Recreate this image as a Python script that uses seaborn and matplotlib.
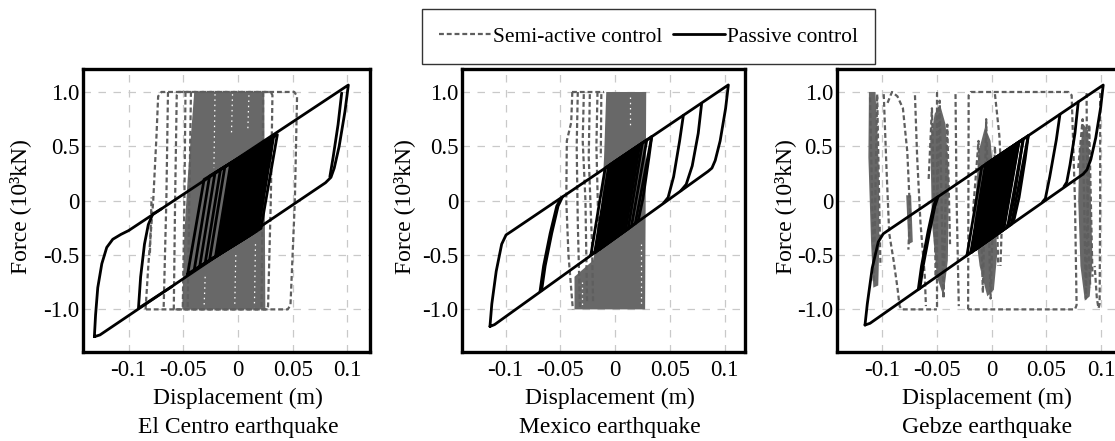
import matplotlib
matplotlib.use("Agg")
import matplotlib.pyplot as plt
from matplotlib.lines import Line2D
import pandas as pd
import seaborn as sns

# ------------------------------------------------------------------ text
x_ticks = [-0.1, -0.05, 0.0, 0.05, 0.1]
x_tick_labels = ["-0.1", "-0.05", "0", "0.05", "0.1"]
y_ticks = [-1.0, -0.5, 0.0, 0.5, 1.0]
y_tick_labels = ["-1.0", "-0.5", "0", "0.5", "1.0"]
captions = ["El Centro earthquake", "Mexico earthquake", "Gebze earthquake"]
series_names = ["Semi-active control", "Passive control"]
x_label = "Displacement (m)"
y_label = "Force (10\u00b3kN)"

# ------------------------------------------------------------------ El Centro
elc_passive_lines = [
    [(-0.1313, -1.251), (-0.1302, -1.05), (-0.1282, -0.80), (-0.1245, -0.58), (-0.1200, -0.43),
     (-0.1145, -0.355), (-0.1070, -0.31), (-0.1000, -0.275), (0.1009, 1.064), (0.0978, 0.82),
     (0.0925, 0.50), (0.0880, 0.30), (0.0850, 0.215), (0.0800, 0.165), (-0.1262, -1.235), (-0.1313, -1.251)],
    [(0.0948, 0.99), (0.0915, 0.70), (0.0870, 0.40), (0.0840, 0.22)],
    [(-0.0600, -0.787), (-0.0910, -0.99), (-0.0890, -0.70), (-0.0855, -0.40), (-0.0820, -0.22),
     (-0.0780, -0.125), (-0.0700, -0.075)],
    [(-0.046, -0.674), (-0.031, 0.195), (0.036, 0.608), (0.021, -0.255), (-0.046, -0.674)],
    [(-0.040, -0.637), (-0.026, 0.226), (0.031, 0.578), (0.017, -0.280), (-0.040, -0.637)],
    [(-0.035, -0.605), (-0.021, 0.257), (0.028, 0.559), (0.014, -0.299), (-0.035, -0.605)],
    [(-0.030, -0.574), (-0.016, 0.288), (0.024, 0.534), (0.011, -0.318), (-0.030, -0.574)],
    [(-0.026, -0.549), (-0.012, 0.312), (0.020, 0.510), (0.007, -0.343), (-0.026, -0.549)],
]
elc_passive_fill = [[(-0.022, -0.525), (-0.008, 0.338), (0.034, 0.596), (0.020, -0.262)]]
elc_semi_lines = [
    [(-0.0845, -1.0), (-0.0820, -0.60), (-0.0775, 0.0), (-0.0745, 0.60), (-0.0730, 0.96), (-0.0700, 1.0),
     (0.0515, 1.0), (0.0540, 0.96), (0.0520, 0.0), (0.0480, -0.96), (0.0455, -1.0), (-0.0845, -1.0)],
    [(-0.0587, -1.0), (-0.0575, 0.0), (-0.0560, 0.97), (-0.0545, 1.0), (0.0300, 1.0), (0.0315, 0.97),
     (0.0300, 0.0), (0.0275, -0.97), (0.0260, -1.0), (-0.0587, -1.0)],
    [(-0.0640, 1.0), (-0.0655, 0.0), (-0.0680, -1.0)],
    [(-0.0480, 1.0), (-0.0490, 0.0), (-0.0505, -1.0)],
    [(-0.0430, 1.0), (-0.0445, 0.0), (-0.0460, -1.0)],
    [(0.0230, 1.0), (0.0225, 0.0), (0.0215, -1.0)],
    [(-0.0805, -0.48), (-0.0790, 0.03)],
]
elc_semi_fill = [[(-0.040, 1.0), (0.024, 1.0), (0.025, -1.0), (-0.051, -1.0), (-0.049, -0.30),
                  (-0.046, 0.20), (-0.043, 0.60)]]
elc_semi_gaps = [
    [(-0.021, 0.98), (-0.022, 0.30)],
    [(-0.005, 0.98), (-0.006, 0.60)],
    [(0.010, 0.97), (0.009, 0.65)],
    [(-0.030, -0.70), (-0.031, -0.98)],
    [(-0.002, -0.50), (-0.003, -0.98)],
    [(0.016, -0.40), (0.015, -0.98)],
]

# ------------------------------------------------------------------ Mexico
mex_passive_lines = [
    [(-0.1142, -1.157), (-0.1125, -0.95), (-0.1085, -0.65), (-0.1035, -0.40), (-0.0995, -0.315),
     (-0.0950, -0.285), (0.1035, 1.065), (0.1010, 0.85), (0.0960, 0.55), (0.0915, 0.37), (0.0885, 0.30),
     (0.0850, 0.27), (-0.1100, -1.140), (-0.1142, -1.157)],
    [(0.0791, 0.895), (0.0760, 0.62), (0.0705, 0.32), (0.0650, 0.15), (0.0600, 0.09)],
    [(0.0624, 0.785), (0.0590, 0.55), (0.0535, 0.22), (0.0485, 0.03), (0.0445, -0.02)],
    [(0.0335, 0.589), (0.0310, 0.40), (0.0255, 0.02), (0.0215, -0.17), (0.0185, -0.21)],
    [(-0.0685, -0.835), (-0.0652, -0.60), (-0.0592, -0.30), (-0.0532, -0.05), (-0.0490, 0.028)],
    [(-0.0670, -0.825), (-0.0638, -0.60), (-0.0578, -0.30), (-0.0520, -0.05), (-0.0480, 0.035)],
    [(-0.022, -0.497), (-0.009, 0.300), (0.0335, 0.589), (0.0185, -0.210), (-0.022, -0.497)],
    [(-0.018, -0.475), (-0.005, 0.327), (0.029, 0.558), (0.015, -0.236), (-0.018, -0.475)],
    [(-0.014, -0.446), (-0.001, 0.354), (0.025, 0.531), (0.012, -0.258), (-0.014, -0.446)],
]
mex_passive_fill = [[(-0.020, -0.490), (-0.007, 0.315), (0.024, 0.525), (0.011, -0.265)]]
mex_semi_lines = [
    [(-0.0390, 1.0), (-0.0400, 0.72), (-0.0440, 0.55), (-0.0445, 0.0), (-0.0425, -0.50), (-0.0385, -1.0)],
    [(-0.0390, 1.0), (-0.0100, 1.0)],
    [(-0.0340, 1.0), (-0.0350, 0.50), (-0.0340, -0.20), (-0.0320, -1.0)],
    [(-0.0285, 0.98), (-0.0295, 0.55), (-0.0270, 0.0), (-0.0255, -0.95)],
    [(-0.0230, 0.98), (-0.0240, 0.40), (-0.0210, -0.40), (-0.0200, -0.95)],
    [(-0.0160, 1.0), (-0.0170, 0.50), (-0.0150, -0.30)],
    [(-0.0125, 0.98), (-0.0130, 0.40)],
]
mex_semi_fill = [[(-0.008, 1.0), (0.0285, 1.0), (0.0275, -1.0), (-0.037, -1.0), (-0.037, -0.70),
                  (-0.028, -0.62), (-0.020, -0.55), (-0.013, -0.20), (-0.010, 0.40)]]
mex_semi_gaps = [
    [(0.014, 0.95), (0.014, 0.70)],
    [(0.024, -0.40), (0.024, -0.95)],
    [(-0.030, -0.75), (-0.030, -0.98)],
]

# ------------------------------------------------------------------ Gebze
geb_passive_lines = [
    [(-0.1156, -1.144), (-0.1135, -0.95), (-0.1090, -0.62), (-0.1035, -0.38), (-0.0990, -0.305),
     (-0.0940, -0.27), (0.1018, 1.064), (0.0995, 0.86), (0.0950, 0.58), (0.0905, 0.38), (0.0870, 0.285),
     (0.0835, 0.245), (-0.1110, -1.128), (-0.1156, -1.144)],
    [(0.0790, 0.909), (0.0760, 0.62), (0.0715, 0.33), (0.0685, 0.17), (0.0660, 0.13)],
    [(0.0623, 0.793), (0.0590, 0.56), (0.0530, 0.22), (0.0490, 0.02), (0.0465, -0.01)],
    [(0.0334, 0.598), (0.0305, 0.38), (0.0250, 0.03), (0.0205, -0.17), (0.0180, -0.21)],
    [(0.0285, 0.565), (0.0255, 0.35), (0.0200, 0.0), (0.0160, -0.20), (0.0140, -0.235)],
    [(-0.0670, -0.818), (-0.0640, -0.60), (-0.0580, -0.28), (-0.0530, -0.05), (-0.0500, 0.030)],
    [(-0.0655, -0.808), (-0.0625, -0.60), (-0.0565, -0.28), (-0.0518, -0.05), (-0.0490, 0.035)],
    [(-0.0225, -0.500), (-0.0090, 0.311), (0.0334, 0.598), (0.0180, -0.217), (-0.0225, -0.500)],
    [(-0.0185, -0.475), (-0.0050, 0.338), (0.0290, 0.568), (0.0145, -0.241), (-0.0185, -0.475)],
    [(-0.0145, -0.447), (-0.0010, 0.365), (0.0250, 0.541), (0.0110, -0.266), (-0.0145, -0.447)],
]
geb_passive_fill = [[(-0.0205, -0.488), (-0.0070, 0.325), (0.0260, 0.548), (0.0120, -0.258)]]
geb_semi_lines = [
    [(-0.0985, 0.98), (-0.0960, 0.30), (-0.0935, -0.30), (-0.0895, -0.55), (-0.0860, -0.80),
     (-0.0840, -0.97), (-0.0820, -1.0), (-0.0500, -1.0)],
    [(-0.0950, 0.90), (-0.0910, 1.0), (-0.0860, 0.96), (-0.0810, 0.85), (-0.0770, 0.45),
     (-0.0745, -0.10), (-0.0760, -0.45)],
    [(-0.0700, 0.97), (-0.0680, 0.40), (-0.0650, -0.20), (-0.0610, -0.70), (-0.0600, -0.97)],
    [(-0.0495, 1.0), (-0.0495, -1.0)],
    [(-0.0330, 0.98), (-0.0320, 0.0), (-0.0300, -0.97)],
    [(-0.0215, -1.0), (-0.0210, 0.97), (-0.0190, 1.0), (0.0700, 1.0), (0.0730, 0.97), (0.0760, 0.0),
     (0.0775, -0.96), (0.0760, -1.0), (-0.0215, -1.0)],
    [(0.0030, 0.98), (0.0070, 0.60), (0.0100, 0.0), (0.0080, -0.60)],
    [(0.0866, 0.99), (0.0870, 0.40), (0.0880, -0.30), (0.0900, -0.80)],
    [(0.0990, 0.99), (0.0990, 0.0), (0.0985, -0.95), (0.0975, -0.99), (0.0960, -0.90), (0.0940, -0.60)],
    [(-0.1110, 0.95), (-0.1075, -0.75), (-0.1045, 0.98), (-0.1015, -0.60)],
    [(-0.0575, 0.20), (-0.0545, 0.85), (-0.0510, -0.70), (-0.0475, 0.92), (-0.0440, -0.90),
     (-0.0405, 0.70), (-0.0380, -0.40)],
    [(-0.0170, -0.10), (-0.0120, 0.55), (-0.0080, -0.85), (-0.0050, 0.75), (-0.0010, -0.90),
     (0.0030, 0.50), (0.0060, -0.60)],
    [(0.0790, 0.30), (0.0830, 0.75), (0.0860, -0.90), (0.0890, 0.70), (0.0920, -0.70)],
]
geb_semi_fill = [
    [(-0.1120, 1.0), (-0.1060, 1.0), (-0.1030, 0.30), (-0.1025, -0.40), (-0.1035, -0.78),
     (-0.1080, -0.80), (-0.1100, -0.40), (-0.1125, 0.40)],
    [(-0.0560, 0.55), (-0.0520, 0.80), (-0.0470, 0.88), (-0.0420, 0.70), (-0.0390, 0.20),
     (-0.0400, -0.55), (-0.0440, -0.88), (-0.0500, -0.70), (-0.0545, -0.20)],
    [(-0.0160, -0.20), (-0.0120, 0.45), (-0.0060, 0.68), (-0.0010, 0.55), (0.0030, 0.10),
     (0.0050, -0.50), (0.0020, -0.82), (-0.0040, -0.88), (-0.0110, -0.60)],
    [(0.0800, 0.45), (0.0840, 0.70), (0.0880, 0.65), (0.0900, 0.20), (0.0920, -0.55),
     (0.0895, -0.88), (0.0850, -0.92), (0.0810, -0.60), (0.0790, 0.00)],
    [(-0.0780, 0.05), (-0.0735, 0.05), (-0.0720, -0.38), (-0.0760, -0.40)],
]
geb_semi_gaps = []

# ------------------------------------------------------------------ style
sns.set_theme(style="white")
plt.rcParams["font.family"] = ["Liberation Serif", "DejaVu Serif"]
plt.rcParams["text.color"] = "black"
plt.rcParams["axes.labelcolor"] = "black"
plt.rcParams["xtick.color"] = "black"
plt.rcParams["ytick.color"] = "black"

W, H = 1115, 441
SEMI_C = "#5e5e5e"
FILL_C = "#686868"
DASH = (0, (2.2, 1.3))

# axes boxes in pixels: left, right, top, bottom ; xlim
panels = [
    dict(box=(83, 370, 68.5, 352), xlim=(-0.1417, 0.1207), zero=238,
         pl=elc_passive_lines, pf=elc_passive_fill, sl=elc_semi_lines, sf=elc_semi_fill, sg=elc_semi_gaps),
    dict(box=(461.7, 745, 68.5, 352), xlim=(-0.1400, 0.1187), zero=610,
         pl=mex_passive_lines, pf=mex_passive_fill, sl=mex_semi_lines, sf=mex_semi_fill, sg=mex_semi_gaps),
    dict(box=(836.5, 1123.5, 68.5, 352), xlim=(-0.1416, 0.1203), zero=987,
         pl=geb_passive_lines, pf=geb_passive_fill, sl=geb_semi_lines, sf=geb_semi_fill, sg=geb_semi_gaps),
]
ylim = (-1.392, 1.216)
ylabel_x = [20, 404, 785]


def to_df(lines):
    rows = []
    for i, seg in enumerate(lines):
        for x, y in seg:
            rows.append((x, y, i))
    return pd.DataFrame(rows, columns=["x", "y", "seg"])


fig = plt.figure(figsize=(W / 100, H / 100), dpi=100)

for k, p in enumerate(panels):
    l, r, t, b = p["box"]
    ax = fig.add_axes([l / W, 1 - b / H, (r - l) / W, (b - t) / H])
    ax.set_axisbelow(True)

    for poly in p["sf"]:
        xs, ys = zip(*poly)
        ax.fill(xs, ys, color=FILL_C, lw=0, zorder=2)
    if p["sg"]:
        sns.lineplot(data=to_df(p["sg"]), x="x", y="y", units="seg", estimator=None, sort=False,
                     color="white", lw=0.9, linestyle=(0, (1.2, 3.0)), legend=False, ax=ax, zorder=2.1)
    sns.lineplot(data=to_df(p["sl"]), x="x", y="y", units="seg", estimator=None, sort=False,
                 color=SEMI_C, lw=1.6, linestyle=DASH, legend=False, ax=ax, zorder=2.2)
    for poly in p["pf"]:
        xs, ys = zip(*poly)
        ax.fill(xs, ys, color="black", lw=0, zorder=3)
    sns.lineplot(data=to_df(p["pl"]), x="x", y="y", units="seg", estimator=None, sort=False,
                 color="black", lw=2.0, legend=False, ax=ax, zorder=3.1)

    ax.set_xlim(*p["xlim"])
    ax.set_ylim(*ylim)
    ax.set_xticks(x_ticks, x_tick_labels, fontsize=16.5)
    ax.set_yticks(y_ticks, y_tick_labels, fontsize=16.5)
    ax.tick_params(axis="both", length=0, colors="black")
    ax.tick_params(axis="x", pad=6)
    ax.tick_params(axis="y", pad=2.5)
    ax.set_xlabel("")
    ax.set_ylabel("")
    ax.grid(True, color="#c9c9c9", lw=0.9, linestyle=(0, (6, 6)))
    for s in ax.spines.values():
        s.set_visible(True)
        s.set_color("black")
        s.set_linewidth(2.4)

    fig.text(p["zero"] / W, 1 - 398 / H, x_label, ha="center", va="center", fontsize=17)
    fig.text(p["zero"] / W, 1 - 428 / H, captions[k], ha="center", va="center", fontsize=17)
    fig.text(ylabel_x[k] / W, 1 - 206.5 / H, y_label, ha="center", va="center",
             rotation=90, fontsize=17)

handles = [Line2D([], [], color=SEMI_C, lw=1.6, linestyle=DASH),
           Line2D([], [], color="black", lw=2.0)]
leg = fig.legend(handles, series_names, loc="upper center",
                 bbox_to_anchor=(648.7 / W, 1 - 9.3 / H), ncol=2, frameon=True, fancybox=False,
                 edgecolor="black", fontsize=15.5, handlelength=2.4, handletextpad=0.1,
                 columnspacing=0.5, borderpad=0.8, borderaxespad=0)
leg.get_frame().set_linewidth(1.0)

fig.savefig("out.png", dpi=100)
